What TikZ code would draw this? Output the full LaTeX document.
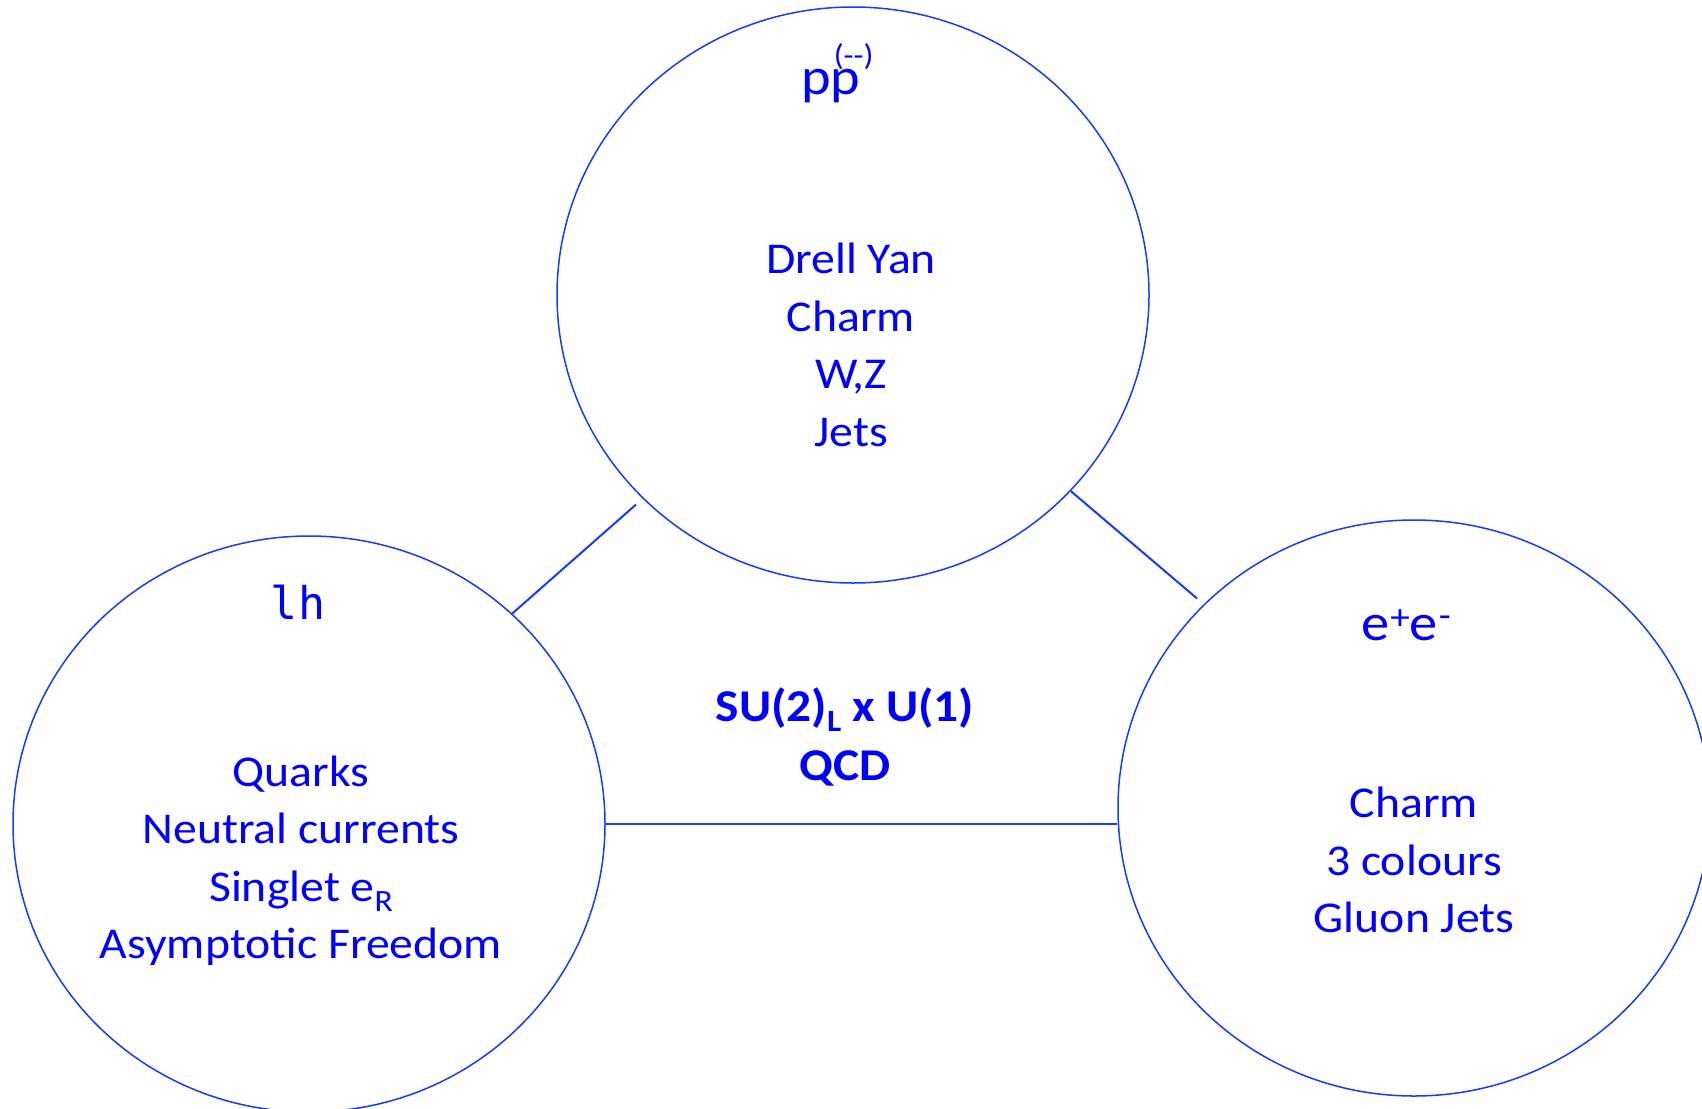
\documentclass[tikz,border=0pt]{standalone}
\usepackage{fontspec}
\setmainfont{Carlito}[FakeStretch=1.085]
\newfontfamily\monofont{DejaVu Sans Mono}
\usetikzlibrary{shapes.geometric,calc}
\definecolor{txtblue}{RGB}{0,0,255}
\definecolor{lnblue}{RGB}{20,60,250}
\newcommand{\smallsub}[1]{\raisebox{-10pt}{\fontsize{31}{31}\selectfont #1}}
\newcommand{\smallsup}[3]{\raisebox{#1}{\fontsize{#2}{#2}\selectfont #3}}
\begin{document}
\begin{tikzpicture}[x=1pt,y=-1pt,
  bubble/.style={ellipse, draw=lnblue, line width=1.5pt, minimum width=592pt, minimum height=576pt, inner sep=0pt},
  link/.style={draw=lnblue, line width=2pt},
  body/.style={text=txtblue, align=center, inner sep=0pt, font=\fontsize{44}{57.5}\selectfont},
  head/.style={text=txtblue, inner sep=0pt, font=\fontsize{52}{60}\selectfont},
  core/.style={text=txtblue, align=center, inner sep=0pt, font=\fontsize{45.5}{58.5}\selectfont\bfseries}]
\fill[white] (0,0) rectangle (1702,1108);
\clip (0,0) rectangle (1702,1108);
\useasboundingbox (0,0) rectangle (1702,1108);
% bubbles
\node[bubble] (pp) at (853,295) {};
\node[bubble] (lh) at (309,824) {};
\node[bubble] (ee) at (1414,808) {};
% connectors
\draw[link] (lh.46) -- ($(pp.center)!1.03!(pp.224)$);
\draw[link] (pp.318) -- ($(ee.center)!1.03!(ee.136)$);
\draw[link] (lh.east) -- (lh.east -| ee.west);
% titles
\node[head, anchor=base west] (pptitle) at (801,95) {p\rlap{p}\kern3pt\smallsup{29pt}{30}{(-{}-)}};
\node[head, font=\monofont\fontsize{45}{50}\selectfont, anchor=base] (lhtitle) at (298,619) {lh};
\node[head, anchor=base west] (eetitle) at (1361,640) {e\kern1pt\smallsup{11pt}{36}{+}e\kern1pt\smallsup{13pt}{36}{-}};
% bodies
\node[body] (ppbody) at (851,345) {Drell Yan\\Charm\\W,Z\\Jets};
\node[body] (lhbody) at (301,861) {Quarks\\Neutral currents\\Singlet e\smallsub{R}\\Asymptotic Freedom};
\node[body] (eebody) at (1414,860) {Charm\\3 colours\\Gluon Jets};
\node[core] (model) at (845,737) {SU(2)\smallsub{L} x U(1)\\QCD};
\end{tikzpicture}
\end{document}
